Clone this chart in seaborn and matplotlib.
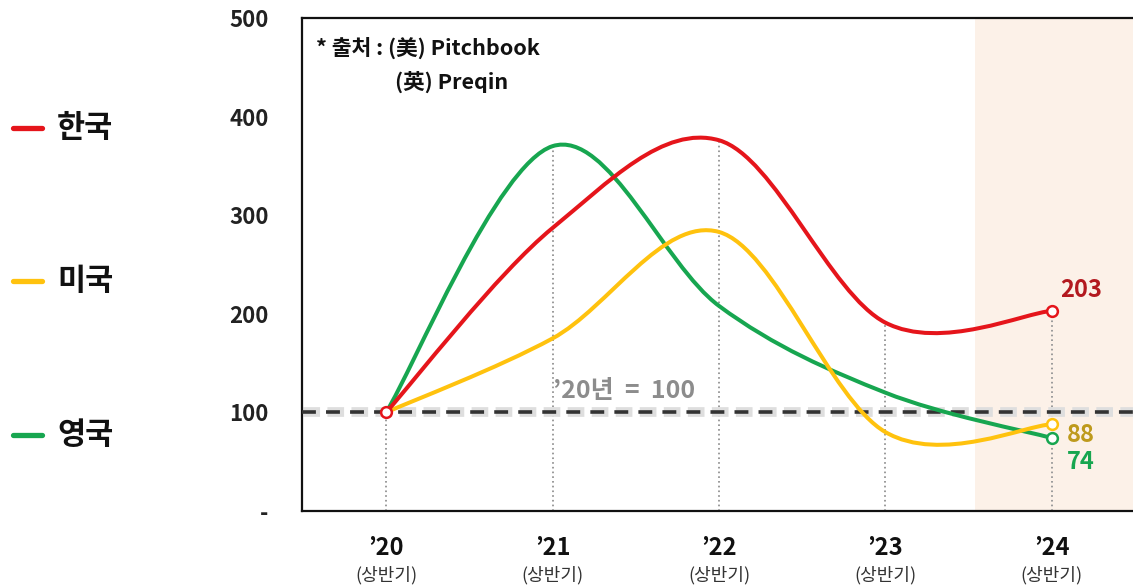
import numpy as np
import matplotlib
matplotlib.use('Agg')
import matplotlib.pyplot as plt
import seaborn as sns
from matplotlib.path import Path
from matplotlib.patches import PathPatch
from matplotlib.lines import Line2D

# 데이터 ('20 상반기 = 100)
years = ['\u201920', '\u201921', '\u201922', '\u201923', '\u201924']
korea = [100, 287, 376, 191, 203]
usa = [100, 175, 283, 80, 88]
uk = [100, 370, 208, 120, 74]
base_value = 100
y_ticks = [0, 100, 200, 300, 400, 500]
y_labels = ['-', '100', '200', '300', '400', '500']

series = [
    ('한국', korea, '#E5151B', '#B3191F'),
    ('미국', usa, '#FFC20E', '#BE9A1C'),
    ('영국', uk, '#17A650', '#17A650'),
]

sns.set_theme(style='white')
plt.rcParams['font.family'] = ['Noto Sans CJK KR', 'DejaVu Sans']
plt.rcParams['lines.scale_dashes'] = False


def smooth_path(xs, ys):
    """엑셀 스타일의 부드러운 선 (베지어 곡선)"""
    pts = np.column_stack([xs, ys]).astype(float)
    n = len(pts)
    verts = [pts[0]]
    codes = [Path.MOVETO]
    for i in range(n - 1):
        p0 = pts[i - 1] if i > 0 else pts[i]
        p1 = pts[i]
        p2 = pts[i + 1]
        p3 = pts[i + 2] if i + 2 < n else pts[i + 1]
        verts += [p1 + (p2 - p0) / 6, p2 - (p3 - p1) / 6, p2]
        codes += [Path.CURVE4] * 3
    return Path(verts, codes)


fig = plt.figure(figsize=(11.33, 5.87), dpi=100)
ax = fig.add_axes([302 / 1133, 76 / 587, 831 / 1133, 493 / 587])

x_idx = np.arange(len(years))
ax.set_xlim(-0.505, 4.487)
ax.set_ylim(0, 500)

# 2024 상반기 강조 영역
ax.axvspan(3.54, 4.6, color='#FCF1E8', zorder=0, lw=0)

# 세로 점선
tops = np.max([korea, usa, uk], axis=0)
ax.vlines(x_idx, 0, tops, colors='#9A9A9A', linestyles=(0, (1.2, 2.2)), lw=1.4, zorder=1)

# 기준선 100
ax.axhline(base_value, color='#DEDEDE', lw=7, zorder=2,
           linestyle=(16.3, (12.0, 5.3)))
ax.axhline(base_value, color='#333333', lw=2.6, zorder=3,
           linestyle=(0, (10.0, 7.3)))
ax.text(1.0, 122, '\u201920년  =  100', color='#8C8C8C', fontsize=18,
        fontweight='bold', ha='left', va='center', zorder=4)

for name, vals, color, _ in series[::-1]:
    patch = PathPatch(smooth_path(x_idx, vals), fill=False, edgecolor=color,
                      lw=2.9, capstyle='round', zorder=5)
    ax.add_patch(patch)

# 마커 ('20 시작점, '24 끝점)
sns.scatterplot(x=[0], y=[korea[0]], ax=ax, s=60, facecolor='white',
                edgecolor=series[0][2], linewidth=1.8, zorder=6, legend=False)
for name, vals, color, _ in series:
    sns.scatterplot(x=[x_idx[-1]], y=[vals[-1]], ax=ax, s=60, facecolor='white',
                    edgecolor=color, linewidth=1.8, zorder=6, legend=False)

# 끝값 라벨
ax.annotate(str(korea[-1]), (x_idx[-1], korea[-1]), xytext=(6, 15),
            textcoords='offset points', color=series[0][3], fontsize=17,
            fontweight='bold', ha='left', va='center')
ax.annotate(str(usa[-1]), (x_idx[-1], usa[-1]), xytext=(11, -8),
            textcoords='offset points', color=series[1][3], fontsize=17,
            fontweight='bold', ha='left', va='center')
ax.annotate(str(uk[-1]), (x_idx[-1], uk[-1]), xytext=(11, -17),
            textcoords='offset points', color=series[2][3], fontsize=17,
            fontweight='bold', ha='left', va='center')

# 출처
ax.text(0.017, 0.94, '* 출처 : (美) Pitchbook', transform=ax.transAxes,
        fontsize=15.5, fontweight='bold', color='#111111', va='center')
ax.text(0.112, 0.87, '(英) Preqin', transform=ax.transAxes,
        fontsize=15.5, fontweight='bold', color='#111111', va='center')

# 축
ax.set_yticks(y_ticks, labels=y_labels)
ax.set_xticks(x_idx, labels=years)
ax.tick_params(axis='y', length=0, pad=24, labelsize=16, labelcolor='#222222')
ax.tick_params(axis='x', length=0, pad=18, labelsize=17, labelcolor='#111111')
for lab in ax.get_yticklabels() + ax.get_xticklabels():
    lab.set_fontweight('bold')
for xi in x_idx:
    ax.annotate('(상반기)', (xi, 0), xycoords=('data', 'axes fraction'),
                xytext=(0, -46.5), textcoords='offset points', ha='center',
                va='center', fontsize=13, color='#333333')

for side in ['left', 'top', 'bottom']:
    ax.spines[side].set_color('#111111')
    ax.spines[side].set_linewidth(1.6)
ax.spines['right'].set_visible(False)
ax.grid(False)

# 왼쪽 범례
legend_y = [128, 281, 435]
for (name, vals, color, _), ly in zip(series, legend_y):
    yf = 1 - ly / 587
    fig.add_artist(Line2D([13 / 1133, 42 / 1133], [yf, yf], color=color, lw=3.8,
                          transform=fig.transFigure))
    fig.text(57 / 1133, yf, name, fontsize=22, fontweight='bold',
             color='#111111', va='center', ha='left')

fig.savefig('out.png', dpi=100)
